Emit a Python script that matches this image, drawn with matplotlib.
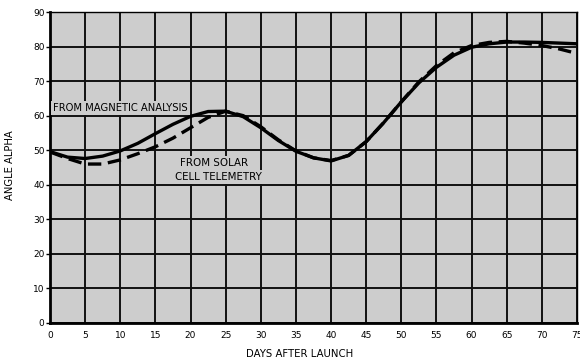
import matplotlib
matplotlib.use("Agg")
import matplotlib.pyplot as plt

days = [0, 2.5, 5, 7.5, 10, 12.5, 15, 17.5, 20, 22.5, 25, 27.5, 30, 32.5, 35,
        37.5, 40, 42.5, 45, 47.5, 50, 52.5, 55, 57.5, 60, 62.5, 65, 67.5, 70, 72.5, 75]
magnetic = [49.6, 48.0, 47.6, 48.3, 49.8, 52.0, 54.8, 57.5, 59.8, 61.2, 61.3, 59.7,
            56.5, 52.8, 49.7, 47.8, 46.9, 48.5, 52.5, 58.0, 64.0, 69.5, 74.0, 77.5,
            79.8, 80.8, 81.3, 81.3, 81.2, 81.0, 80.8]
solar = [49.5, 47.6, 46.0, 46.0, 47.2, 49.0, 51.0, 53.5, 56.5, 59.5, 61.3, 60.0,
         56.8, 53.0, 49.8, 47.8, 47.0, 48.5, 52.5, 58.0, 64.0, 69.8, 74.5, 78.2,
         80.3, 81.2, 81.5, 81.0, 80.3, 79.3, 78.0]
xticks = [0, 5, 10, 15, 20, 25, 30, 35, 40, 45, 50, 55, 60, 65, 70, 75]
yticks = [0, 10, 20, 30, 40, 50, 60, 70, 80, 90]

fig = plt.figure(figsize=(5.8, 3.64), dpi=100)
fig.patch.set_facecolor("white")
ax = fig.add_axes([50/580, 41/364, 527/580, 311/364])
bg = "#cdcdcd"
ax.set_facecolor(bg)
ax.set_xlim(0, 75)
ax.set_ylim(0, 90)
ax.set_xticks(xticks)
ax.set_yticks(yticks)
ax.grid(True, color="#111111", linewidth=1.4)
ax.set_axisbelow(True)
for s in ["left", "bottom"]:
    ax.spines[s].set_linewidth(2.0)
for s in ["top", "right"]:
    ax.spines[s].set_linewidth(1.0)
ax.tick_params(axis="y", length=3, width=1, labelsize=6.5, pad=1)
ax.tick_params(axis="x", length=0, labelsize=6.5, pad=6)

ax.plot(days, magnetic, color="black", linewidth=2.4, solid_capstyle="round")
ax.plot(days, solar, color="black", linewidth=2.4, linestyle=(0, (4, 2)))

box = dict(facecolor=bg, edgecolor="none", pad=1.5)
ax.text(0.45, 62.2, "FROM MAGNETIC ANALYSIS", fontsize=7.2, ha="left", va="center", bbox=box)
ax.text(18.5, 46.3, "FROM SOLAR", fontsize=7.4, ha="left", va="center", bbox=box)
ax.text(17.8, 42.2, "CELL TELEMETRY", fontsize=7.4, ha="left", va="center", bbox=box)

fig.text(10/580, 1 - 165/364, "ANGLE ALPHA", rotation=90, fontsize=7.2, ha="center", va="center")
fig.text(300/580, 1 - 354/364, "DAYS AFTER LAUNCH", fontsize=7.3, ha="center", va="center")

fig.savefig("out.png", dpi=100)
